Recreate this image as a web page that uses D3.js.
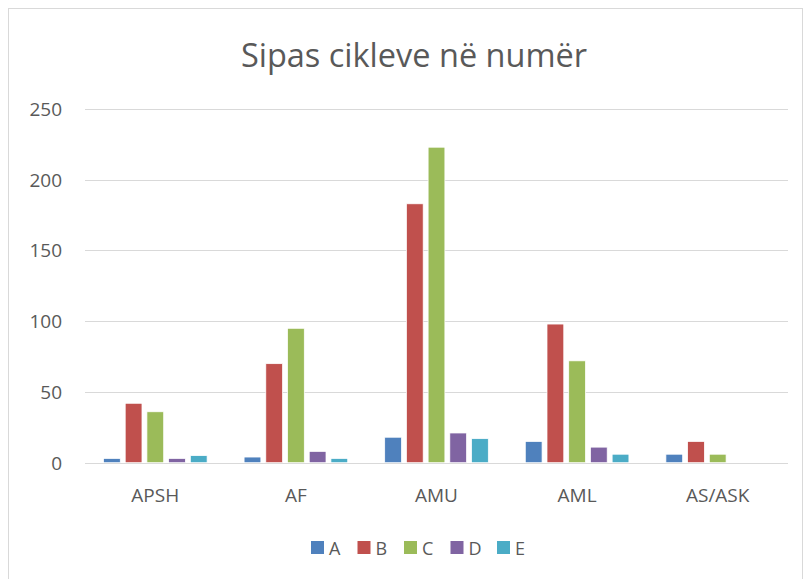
<!DOCTYPE html>
<html>
<head>
<meta charset="utf-8">
<script src="https://cdn.jsdelivr.net/npm/d3@7"></script>
<style>
  body { margin: 0; background: #fff; }
</style>
</head>
<body>
<div id="chart"></div>
<script>
const categories = ["APSH", "AF", "AMU", "AML", "AS/ASK"];
const seriesNames = ["A", "B", "C", "D", "E"];
const seriesA = [3, 4, 18, 15, 6];
const seriesB = [42, 70, 183, 98, 15];
const seriesC = [36, 95, 223, 72, 6];
const seriesD = [3, 8, 21, 11, 0];
const seriesE = [5, 3, 17, 6, 0];
const yTicks = [0, 50, 100, 150, 200, 250];

const seriesValues = [seriesA, seriesB, seriesC, seriesD, seriesE];
const colors = ["#4f81bd", "#c0504d", "#9bbb59", "#8064a2", "#4bacc6"];
const font = "'Open Sans', sans-serif";
const textColor = "#595959";

const width = 811, height = 579;
const plot = { left: 85, right: 788, top: 109, bottom: 462.7 };

const svg = d3.select("#chart")
    .append("svg")
    .attr("width", width)
    .attr("height", height);

// chart border
svg.append("rect")
    .attr("x", 8.5)
    .attr("y", 8.5)
    .attr("width", 794)
    .attr("height", 580)
    .attr("fill", "#fff")
    .attr("stroke", "#d9d9d9");

const y = d3.scaleLinear()
    .domain([0, 250])
    .range([plot.bottom, plot.top]);

const x0 = d3.scaleBand()
    .domain(categories)
    .range([plot.left, plot.right])
    .paddingInner(0.263)
    .paddingOuter(0.1315);

const x1 = d3.scaleBand()
    .domain(seriesNames)
    .range([0, x0.bandwidth()])
    .paddingInner(0.227);

// gridlines
svg.append("g")
    .selectAll("line")
    .data(yTicks)
    .join("line")
    .attr("x1", plot.left)
    .attr("x2", plot.right)
    .attr("y1", d => Math.round(y(d)) + 0.5)
    .attr("y2", d => Math.round(y(d)) + 0.5)
    .attr("stroke", "#d9d9d9")
    .attr("stroke-width", 1);

// y tick labels
svg.append("g")
    .selectAll("text")
    .data(yTicks)
    .join("text")
    .attr("x", 62)
    .attr("y", d => y(d))
    .attr("dy", "0.36em")
    .attr("text-anchor", "end")
    .style("font-family", font)
    .style("font-size", "19px")
    .attr("fill", textColor)
    .text(d => d);

// bars
const groups = svg.append("g")
    .selectAll("g")
    .data(categories)
    .join("g")
    .attr("transform", d => `translate(${x0(d)},0)`);

groups.selectAll("rect")
    .data((d, i) => seriesNames.map((s, j) => ({ s, v: seriesValues[j][i], c: colors[j] })))
    .join("rect")
    .filter(d => d.v > 0)
    .attr("x", d => x1(d.s))
    .attr("y", d => y(d.v))
    .attr("width", x1.bandwidth())
    .attr("height", d => y(0) - y(d.v))
    .attr("fill", d => d.c)
    .attr("stroke", "#fff")
    .attr("stroke-width", 0.75);

// x labels
svg.append("g")
    .selectAll("text")
    .data(categories)
    .join("text")
    .attr("x", d => x0(d) + x0.bandwidth() / 2)
    .attr("y", 502)
    .attr("text-anchor", "middle")
    .style("font-family", font)
    .style("font-size", "19px")
    .attr("fill", textColor)
    .text(d => d);

// title
svg.append("text")
    .attr("x", 414)
    .attr("y", 67)
    .attr("text-anchor", "middle")
    .style("font-family", font)
    .style("font-size", "32.5px")
    .attr("fill", textColor)
    .text("Sipas cikleve në numër");

// legend
const legend = svg.append("g");
seriesNames.forEach((s, i) => {
    const lx = 311 + i * 46.5;
    legend.append("rect")
        .attr("x", lx)
        .attr("y", 541)
        .attr("width", 13)
        .attr("height", 13)
        .attr("fill", colors[i]);
    legend.append("text")
        .attr("x", lx + 18)
        .attr("y", 555)
        .style("font-family", font)
        .style("font-size", "18px")
        .attr("fill", textColor)
        .text(s);
});
</script>
</body>
</html>
